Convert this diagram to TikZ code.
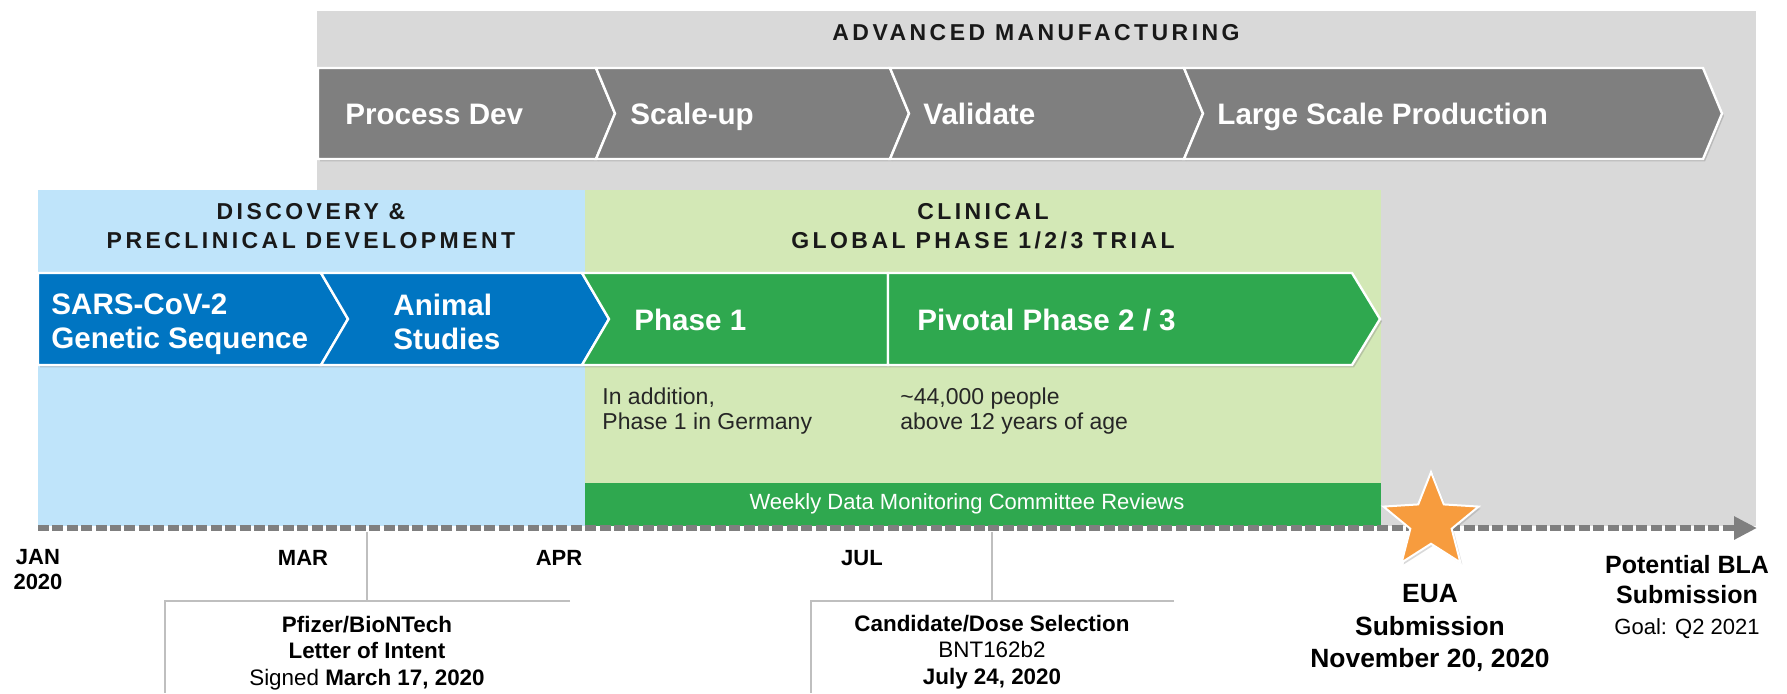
\documentclass[tikz,border=0pt]{standalone}
\usepackage{fontspec}
\setmainfont{Liberation Sans}
\newfontfamily\headfont[LetterSpace=15]{Liberation Sans}
\usetikzlibrary{shapes.geometric, shadows, arrows.meta}

\definecolor{mfgback}{HTML}{D9D9D9}
\definecolor{mfggray}{HTML}{7F7F7F}
\definecolor{discback}{HTML}{BFE4FA}
\definecolor{discblue}{HTML}{0075C2}
\definecolor{clinback}{HTML}{D3E8B6}
\definecolor{clingreen}{HTML}{2FA84F}
\definecolor{euaorange}{HTML}{F79C3E}
\definecolor{tickgray}{HTML}{BFBFBF}

% colour, left x, right x, notch depth, tip depth, top y, bottom y
\newcommand{\chevbox}[7]{%
  \filldraw[fill=#1, draw=white, line width=1.2pt,
    drop shadow={shadow xshift=1pt, shadow yshift=-1.2pt, opacity=0.35}]
    (#2,#6) -- (#3,#6) -- ({#3+#5},{(#6+#7)/2}) -- (#3,#7) -- (#2,#7)
    -- ({#2+#4},{(#6+#7)/2}) -- cycle;}

\begin{document}
\begin{tikzpicture}[x=0.5pt, y=-0.5pt,
  heading/.style={font=\headfont\bfseries\fontsize{11.5}{14.5}\selectfont, align=center, text=black!90, inner sep=0pt},
  chevtext/.style={font=\bfseries\fontsize{14.8}{17}\selectfont, text=white, align=left, anchor=west, inner sep=0pt},
  chevline/.style={chevtext, text height=10.6pt, text depth=0pt},
  note/.style={font=\fontsize{11.5}{12.5}\selectfont, align=left, anchor=west, inner sep=0pt, text=black!85},
  month/.style={font=\bfseries\fontsize{11}{12.5}\selectfont, align=center, inner sep=0pt},
  milestone/.style={font=\fontsize{11.2}{13.4}\selectfont, align=center, inner sep=0pt},
  tick/.style={draw=tickgray, line width=0.6pt},
  axis/.style={draw=mfggray, line width=3pt, dash pattern=on 5.5pt off 1.7pt,
    -{Triangle[length=11.5pt, width=11pt]}}]

   \useasboundingbox (0,0) rectangle (1787,693);

   % phase backgrounds
   \fill[mfgback] (317,11) rectangle (1756,526);
   \fill[discback] (38,190) rectangle (585,526);
   \fill[clinback] (585,190) rectangle (1381,526);
   \fill[clingreen] (585,483) rectangle (1381,526);

   % chevrons
   \chevbox{mfggray}{318}{596}{0}{19}{68}{159}
   \chevbox{mfggray}{596}{890}{19}{19}{68}{159}
   \chevbox{mfggray}{890}{1184}{19}{19}{68}{159}
   \chevbox{mfggray}{1184}{1703}{19}{19}{68}{159}
   \chevbox{discblue}{38}{321}{0}{27}{273}{365}
   \chevbox{discblue}{321}{582}{27}{27}{273}{365}
   \chevbox{clingreen}{582}{888}{27}{0}{273}{365}
   \chevbox{clingreen}{888}{1352}{0}{28}{273}{365}

   \node[heading] (mfghead) at (1036,33) {ADVANCED MANUFACTURING};
   \node[chevline] (procdev) at (345,114) {Process Dev};
   \node[chevline] (scaleup) at (630,114) {Scale-up};
   \node[chevline] (validate) at (923,114) {Validate};
   \node[chevline] (largescale) at (1217,114) {Large Scale Production};

   \node[heading] (dischead) at (311,226) {DISCOVERY \&\\PRECLINICAL DEVELOPMENT};
   \node[heading] (clinhead) at (983,226) {CLINICAL\\GLOBAL PHASE 1/2/3 TRIAL};
   \node[chevtext] (sars) at (51,324) {SARS-CoV-2\\Genetic Sequence};
   \node[chevtext] (animal) at (393,322) {Animal\\Studies};
   \node[chevline] (phaseone) at (634,320) {Phase 1};
   \node[chevline] (pivotal) at (917,320) {Pivotal Phase 2 / 3};

   \node[note] (germany) at (602,411) {In addition,\\Phase 1 in Germany};
   \node[note] (people) at (900,411) {\textasciitilde44,000 people\\above 12 years of age};
   \node[note, anchor=center, text=white, font=\fontsize{11}{13}\selectfont] (weekly) at (967,504)
      {Weekly Data Monitoring Committee Reviews};

   % time line
   \coordinate (tstart) at (38,528);
   \coordinate (tend) at (1757,528);
   \draw[axis] (tstart) -- (tend);

   \node[star, star points=5, star point ratio=2.3, minimum size=50pt, inner sep=0pt,
      fill=euaorange, draw=white, line width=1pt,
      drop shadow={shadow xshift=1pt, shadow yshift=-1pt, opacity=0.3}] (euastar) at (1431,522) {};

   \node[month] (jan) at (38,570) {JAN\\2020};
   \node[month] (mar) at (303,558) {MAR};
   \node[month] (apr) at (559,558) {APR};
   \node[month] (jul) at (862,558) {JUL};

   \node[milestone] (loi) at (367,653)
      {\textbf{Pfizer/BioNTech}\\\textbf{Letter of Intent}\\Signed \textbf{March 17, 2020}};
   \node[milestone] (dose) at (992,652)
      {\textbf{Candidate/Dose Selection}\\BNT162b2\\\textbf{July 24, 2020}};
   \node[milestone, font=\bfseries\fontsize{13.2}{16.2}\selectfont] (euasub) at (1430,628)
      {EUA\\Submission\\November 20, 2020};
   \node[milestone, font=\fontsize{12.5}{15.4}\selectfont] (bla) at (1687,597)
      {\textbf{Potential BLA}\\\textbf{Submission}\\{\fontsize{11}{13}\selectfont Goal: Q2 2021}};

   % milestone leaders
   \coordinate (mar17) at (367,532);
   \coordinate (loiL) at (165,601);
   \coordinate (loiR) at (570,601);
   \coordinate (loiB) at (165,693);
   \draw[tick] (mar17) -- (mar17 |- loiL);
   \draw[tick] (loiR) -- (loiL) -- (loiB);

   \coordinate (jul24) at (992,532);
   \coordinate (doseL) at (811,601);
   \coordinate (doseR) at (1174,601);
   \coordinate (doseB) at (811,693);
   \draw[tick] (jul24) -- (jul24 |- doseL);
   \draw[tick] (doseR) -- (doseL) -- (doseB);

\end{tikzpicture}
\end{document}
